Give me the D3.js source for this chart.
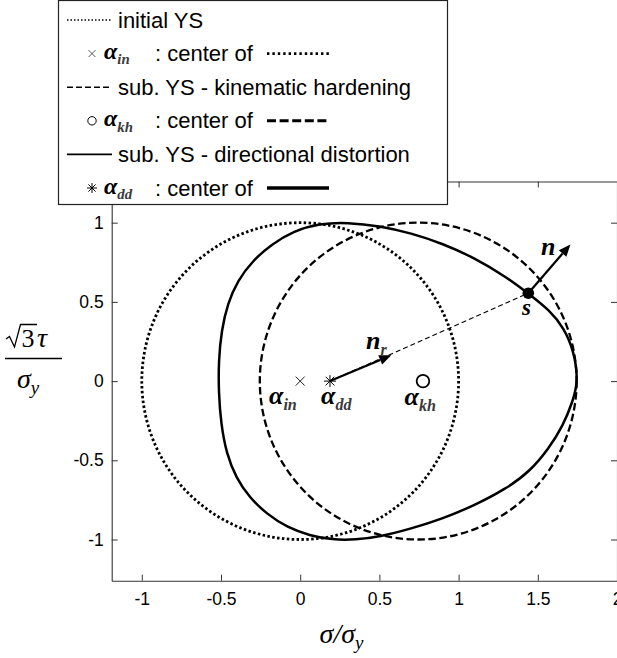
<!DOCTYPE html>
<html>
<head>
<meta charset="utf-8">
<script src="https://cdn.jsdelivr.net/npm/d3@7"></script>
<style>
  html, body { margin: 0; padding: 0; background: #fff; }
  svg { display: block; }
</style>
</head>
<body>
<svg id="chart" width="617" height="658"></svg>
<script>
// ---- data -------------------------------------------------------------
const xTicks = [-1, -0.5, 0, 0.5, 1, 1.5, 2];
const yTicks = [-1, -0.5, 0, 0.5, 1];

// initial yield surface (von Mises circle) and kinematically shifted one
const initialCenter = [0, 0];
const initialRadius = 1;
const kinematicCenter = [0.745, 0];
const kinematicRadius = 1.0;

// directional-distortion yield surface, traced counter-clockwise from the right tip
const distortedX = [1.756, 1.728, 1.665, 1.575, 1.440, 1.300, 1.100, 0.900, 0.700, 0.500, 0.300, 0.120,
  -0.040, -0.180, -0.300, -0.395, -0.458, -0.497, -0.515, -0.515, -0.500, -0.465, -0.405, -0.320,
  -0.210, -0.080, 0.060, 0.200, 0.350, 0.500, 0.700, 0.900, 1.100, 1.300, 1.450, 1.570, 1.660, 1.720];
const distortedY = [0.000, 0.190, 0.335, 0.447, 0.553, 0.658, 0.778, 0.868, 0.934, 0.980, 1.002, 0.995,
  0.948, 0.865, 0.760, 0.635, 0.490, 0.320, 0.130, -0.070, -0.270, -0.460, -0.610, -0.735,
  -0.840, -0.925, -0.975, -1.002, -1.002, -0.983, -0.932, -0.868, -0.785, -0.680, -0.570, -0.425, -0.280, -0.130];

// centres drawn as markers
const alphaIn = [0, 0];
const alphaDd = [0.188, 0];
const alphaKh = [0.775, 0];

// stress point on the distorted surface and the two unit directions
const sPoint = [1.44, 0.555];
const nTip = [1.706, 0.863];
const nrTip = [0.575, 0.163];

const legendLabels = ["initial YS", ": center of", "sub. YS - kinematic hardening",
  ": center of", "sub. YS - directional distortion", ": center of"];

// ---- scales & frame ---------------------------------------------------
const svg = d3.select("#chart");
const x = d3.scaleLinear().domain([-1.19, 2]).range([111.7, 617]);
const y = d3.scaleLinear().domain([-1.26, 1.26]).range([580.7, 181.5]);

const axisColor = "#333";
const tickFont = "17.5px 'Liberation Sans', Arial, sans-serif";
const fmt = d => String(d);

function styleAxis(g) {
  g.selectAll("path.domain").attr("stroke", axisColor).attr("stroke-width", 1.1);
  g.selectAll(".tick line").attr("stroke", axisColor).attr("stroke-width", 1);
  g.selectAll(".tick text").attr("fill", "#000").style("font", tickFont);
}

svg.append("g").attr("transform", `translate(0,${y.range()[0]})`)
  .call(d3.axisBottom(x).tickValues(xTicks).tickFormat(fmt).tickSizeInner(-6).tickSizeOuter(0).tickPadding(12))
  .call(styleAxis);
svg.append("g").attr("transform", `translate(0,${y.range()[1]})`)
  .call(d3.axisTop(x).tickValues(xTicks).tickFormat("").tickSizeInner(-6).tickSizeOuter(0))
  .call(styleAxis);
svg.append("g").attr("transform", `translate(${x.range()[0]},0)`)
  .call(d3.axisLeft(y).tickValues(yTicks).tickFormat(fmt).tickSizeInner(-6).tickSizeOuter(0).tickPadding(8))
  .call(styleAxis);
svg.append("g").attr("transform", `translate(${x.range()[1]},0)`)
  .call(d3.axisRight(y).tickValues(yTicks).tickFormat("").tickSizeInner(-6).tickSizeOuter(0))
  .call(styleAxis);

// ---- yield surfaces ---------------------------------------------------
const plot = svg.append("g");

function circleSurface(c, r, dash, width) {
  plot.append("ellipse")
    .attr("cx", x(c[0])).attr("cy", y(c[1]))
    .attr("rx", x(c[0] + r) - x(c[0])).attr("ry", y(c[1]) - y(c[1] + r))
    .attr("fill", "none").attr("stroke", "#000")
    .attr("stroke-width", width).attr("stroke-dasharray", dash);
}
circleSurface(initialCenter, initialRadius, "2.5 2.4", 2.8);
circleSurface(kinematicCenter, kinematicRadius, "7.5 3.5", 2.3);

const distorted = distortedX.map((v, i) => [v, distortedY[i]]);
plot.append("path")
  .attr("d", d3.line().x(d => x(d[0])).y(d => y(d[1])).curve(d3.curveBasisClosed)(distorted))
  .attr("fill", "none").attr("stroke", "#000").attr("stroke-width", 2.5);

// ---- arrows and reference line ---------------------------------------
plot.append("line")
  .attr("x1", x(alphaDd[0])).attr("y1", y(alphaDd[1]))
  .attr("x2", x(sPoint[0])).attr("y2", y(sPoint[1]))
  .attr("stroke", "#000").attr("stroke-width", 1.1).attr("stroke-dasharray", "5 3");

function arrow(from, to) {
  const x1 = x(from[0]), y1 = y(from[1]), x2 = x(to[0]), y2 = y(to[1]);
  const a = Math.atan2(y2 - y1, x2 - x1);
  const L = 12, W = 5;
  const bx = x2 - L * Math.cos(a), by = y2 - L * Math.sin(a);
  plot.append("line").attr("x1", x1).attr("y1", y1).attr("x2", bx).attr("y2", by)
    .attr("stroke", "#000").attr("stroke-width", 2.2);
  plot.append("path")
    .attr("d", `M${x2},${y2}L${bx - W * Math.sin(a)},${by + W * Math.cos(a)}L${bx + W * Math.sin(a)},${by - W * Math.cos(a)}Z`)
    .attr("fill", "#000");
}
arrow(alphaDd, nrTip);
arrow(sPoint, nTip);

plot.append("circle").attr("cx", x(sPoint[0])).attr("cy", y(sPoint[1])).attr("r", 5.8).attr("fill", "#000");

// ---- centre markers ---------------------------------------------------
function crossMark(g, cx, cy, s, w, col) {
  g.append("path").attr("d", `M${cx - s},${cy - s}L${cx + s},${cy + s}M${cx - s},${cy + s}L${cx + s},${cy - s}`)
    .attr("stroke", col).attr("stroke-width", w).attr("fill", "none");
}
function starMark(g, cx, cy, s, w) {
  const d = s * 0.72;
  g.append("path")
    .attr("d", `M${cx - s},${cy}L${cx + s},${cy}M${cx},${cy - s}L${cx},${cy + s}M${cx - d},${cy - d}L${cx + d},${cy + d}M${cx - d},${cy + d}L${cx + d},${cy - d}`)
    .attr("stroke", "#000").attr("stroke-width", w).attr("fill", "none");
}
crossMark(plot, x(alphaIn[0]), y(alphaIn[1]), 4.5, 1, "#222");
starMark(plot, x(alphaDd[0]), y(alphaDd[1]), 6, 1);
plot.append("circle").attr("cx", x(alphaKh[0])).attr("cy", y(alphaKh[1])).attr("r", 6.3)
  .attr("fill", "none").attr("stroke", "#000").attr("stroke-width", 1.8);

// ---- math labels ------------------------------------------------------
const mathFont = "'Liberation Serif', 'DejaVu Serif', serif";

function boldSym(g, px, py, sym, sub, size) {
  const t = g.append("text").attr("x", px).attr("y", py)
    .style("font-family", mathFont).style("font-style", "italic").style("font-weight", "bold")
    .style("font-size", size + "px").attr("fill", "#000");
  t.append("tspan").text(sym);
  if (sub) {
    t.append("tspan").attr("dy", size * 0.22).style("font-size", (size * 0.62) + "px")
      .attr("fill", "#3a3a3a").text(sub);
  }
  return t;
}
boldSym(plot, 269, 404, "α", "in", 26);
boldSym(plot, 321, 404, "α", "dd", 26);
boldSym(plot, 404.5, 405, "α", "kh", 26);
boldSym(plot, 366, 349, "n", "r", 26);
boldSym(plot, 541, 255, "n", null, 26);
boldSym(plot, 522, 314.5, "s", null, 23);

// axis titles
svg.append("path").attr("d", "M6,339L9.5,336.5L14.5,347L20.5,324.5L37,324.5")
  .attr("fill", "none").attr("stroke", "#000").attr("stroke-width", 1.3);
svg.append("text").attr("x", 21.5).attr("y", 346.5)
  .style("font-family", mathFont).style("font-size", "26px").text("3");
svg.append("text").attr("x", 37).attr("y", 346.5)
  .style("font-family", mathFont).style("font-style", "italic").style("font-size", "28px").text("τ");
svg.append("line").attr("x1", 5).attr("x2", 62).attr("y1", 358.5).attr("y2", 358.5)
  .attr("stroke", "#000").attr("stroke-width", 1.3);
const yDen = svg.append("text").attr("x", 17).attr("y", 387.5)
  .style("font-family", mathFont).style("font-style", "italic").style("font-size", "28px");
yDen.append("tspan").text("σ");
yDen.append("tspan").attr("dy", 6).style("font-size", "19px").text("y");

const xTitle = svg.append("text").attr("x", 341.5).attr("y", 643).attr("text-anchor", "middle")
  .style("font-family", mathFont).style("font-style", "italic").style("font-size", "28px");
xTitle.append("tspan").text("σ/σ");
xTitle.append("tspan").attr("dy", 6).style("font-size", "19px").text("y");

// ---- legend -----------------------------------------------------------
const legend = svg.append("g");
legend.append("rect").attr("x", 58.5).attr("y", 0.5).attr("width", 389).attr("height", 204)
  .attr("fill", "#fff").attr("stroke", "#222").attr("stroke-width", 1.2);

const rowY = d3.range(6).map(i => 20 + i * 33.6);
const textFont = "22px 'Liberation Sans', Arial, sans-serif";

function sample(x1, x2, yy, dash, w) {
  legend.append("line").attr("x1", x1).attr("x2", x2).attr("y1", yy).attr("y2", yy)
    .attr("stroke", "#000").attr("stroke-width", w).attr("stroke-dasharray", dash);
}
// curve entries
sample(67, 112, rowY[0], "1.5 2", 1.7);
sample(67, 112, rowY[2], "6 3", 1.5);
sample(67, 112, rowY[4], null, 1.9);
[0, 2, 4].forEach(i => legend.append("text").attr("x", 118).attr("y", rowY[i] + 7.5)
  .style("font", textFont).text(legendLabels[i]));

// centre entries
crossMark(legend, 92, rowY[1], 3.5, 0.9, "#444");
legend.append("circle").attr("cx", 92).attr("cy", rowY[3]).attr("r", 4.2)
  .attr("fill", "none").attr("stroke", "#000").attr("stroke-width", 1);
starMark(legend, 92, rowY[5], 5, 1);
boldSym(legend, 104, rowY[1] + 5.5, "α", "in", 24);
boldSym(legend, 104, rowY[3] + 5.5, "α", "kh", 24);
boldSym(legend, 104, rowY[5] + 5.5, "α", "dd", 24);
[1, 3, 5].forEach(i => legend.append("text").attr("x", 155).attr("y", rowY[i] + 7.5)
  .style("font", textFont).text(legendLabels[i]));
sample(267, 329, rowY[1], "2.4 3", 2.8);
sample(267, 329, rowY[3], "9 3.6", 3);
sample(267, 329, rowY[5], null, 3.5);
</script>
</body>
</html>
